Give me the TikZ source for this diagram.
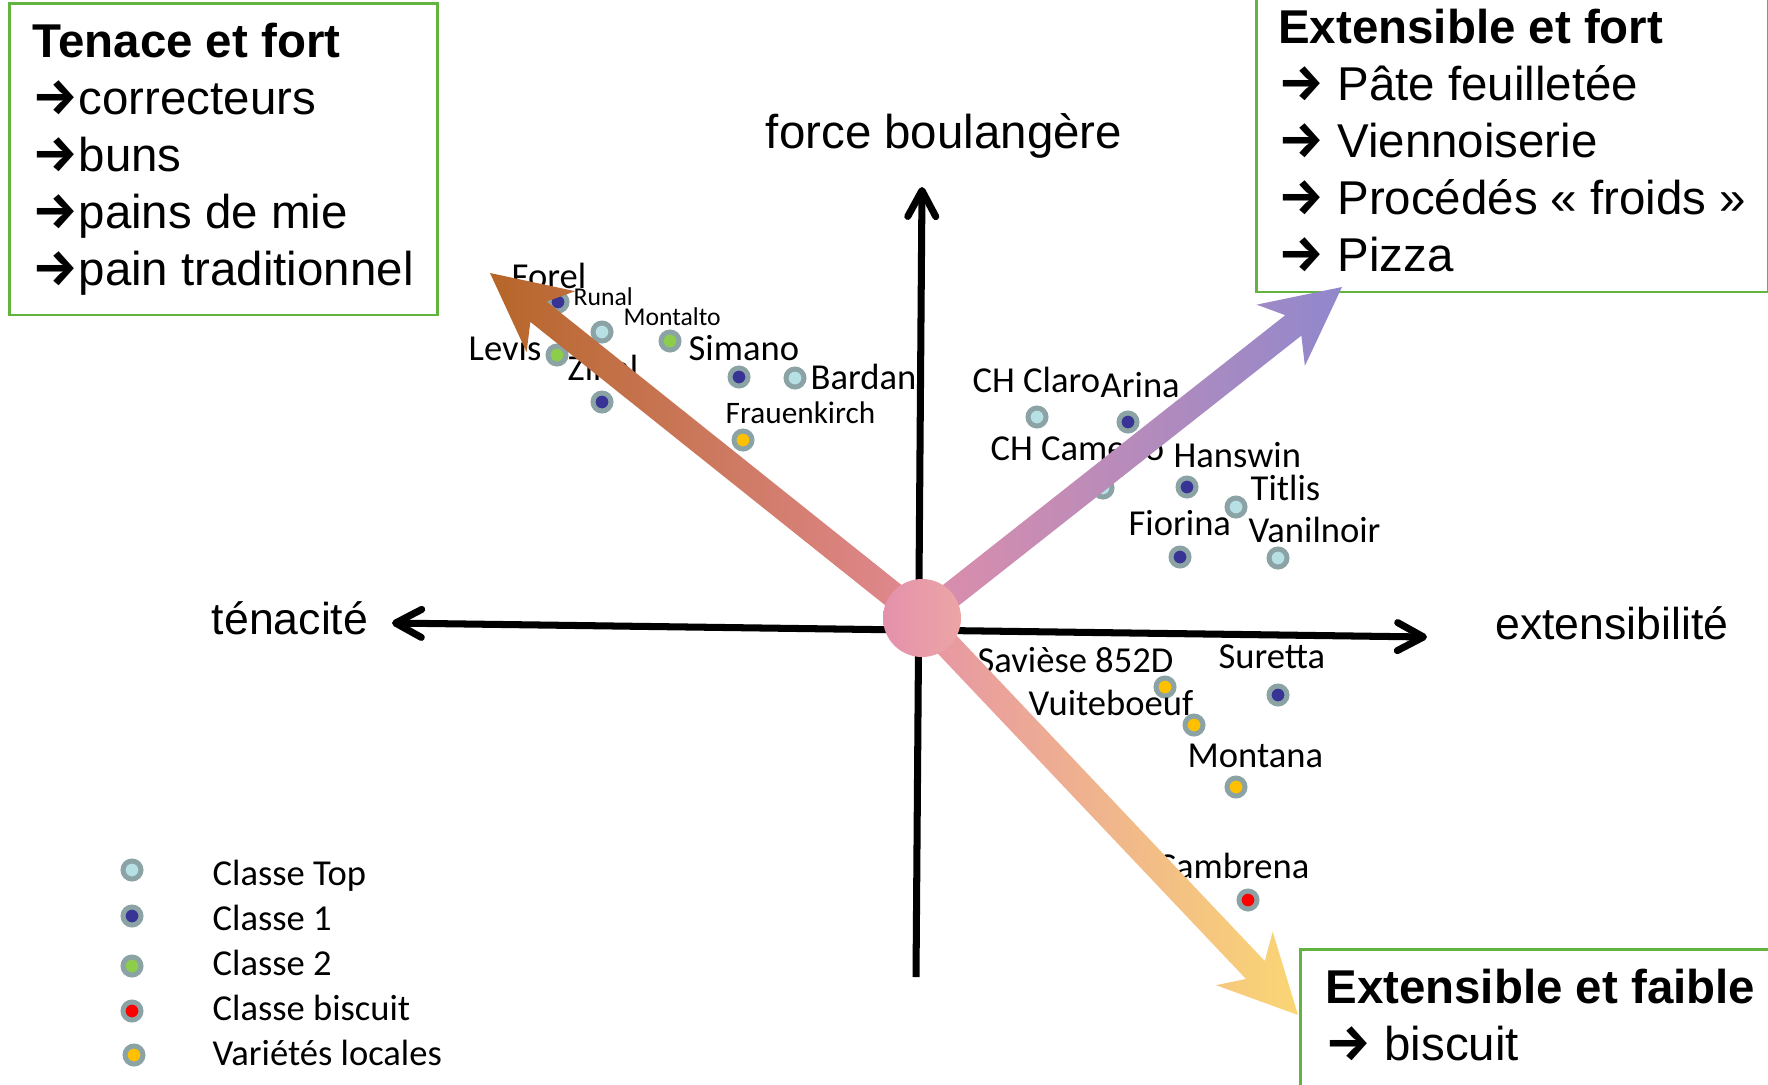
\documentclass[tikz,border=0pt]{standalone}
\usepackage{fontspec}
\setmainfont{Liberation Sans}
\newfontfamily\calibri{Carlito}
\newfontfamily\arrowfont{Fira Sans}
\usetikzlibrary{arrows.meta, calc}
\definecolor{ringgrey}{RGB}{140,163,166}
\definecolor{ctop}{RGB}{183,224,228}
\definecolor{cone}{RGB}{55,52,150}
\definecolor{ctwo}{RGB}{140,205,75}
\definecolor{cbis}{RGB}{255,0,0}
\definecolor{cloc}{RGB}{255,192,0}
\definecolor{boxgreen}{RGB}{98,180,62}
\definecolor{arrbrown}{RGB}{182,102,40}
\definecolor{arrpurple}{RGB}{144,136,204}
\definecolor{arryellow}{RGB}{250,214,116}
\definecolor{pinka}{RGB}{226,138,148}
\definecolor{pinkb}{RGB}{222,142,170}
\definecolor{pinkc}{RGB}{230,148,165}
\definecolor{hubleft}{RGB}{228,145,172}
\definecolor{hubright}{RGB}{236,165,165}
\newcommand{\goesto}{{\arrowfont\bfseries\fontsize{14.5}{14.5}\selectfont →}}

\begin{document}
\begin{tikzpicture}[x=0.1mm, y=-0.1mm,
  >={Straight Barb[length=2.6mm, width=2.8mm, round]},
  axisline/.style={line width=2pt},
  catbox/.style={draw=boxgreen, line width=0.25mm, align=left, inner xsep=2mm, inner ysep=2mm,
                 font=\fontsize{13.5}{16.2}\selectfont},
  variety/.style={circle, draw=ringgrey, line width=0.5mm, minimum size=1.8mm, inner sep=0pt},
  lbl/.style={anchor=base west, inner sep=0pt, font=\calibri\fontsize{10.4}{12.5}\selectfont},
  axlbl/.style={anchor=base, inner sep=0pt},
]
\useasboundingbox (0,0) rectangle (1768,1084);

% Category boxes
\node[catbox, anchor=north west, minimum width=42.8mm, minimum height=31mm] (tenace) at (8,2)
{\textbf{Tenace et fort}\\\goesto correcteurs\\\goesto buns\\\goesto pains de mie\\\goesto pain traditionnel};
\node[catbox, anchor=south west, minimum width=51.2mm] (fort) at (1255,293)
{\textbf{Extensible et fort}\\\goesto{} Pâte feuilletée\\\goesto{} Viennoiserie\\\goesto{} Procédés « froids »\\\goesto{} Pizza};
\node[catbox, anchor=north west, minimum width=48mm, text depth=2mm] (faible) at (1299,948)
{\textbf{Extensible et faible}\\\goesto{} biscuit};

% Axes
\coordinate (h-left) at (392,623);
\coordinate (h-right) at (1427,637);
\coordinate (v-top) at (922,187);
\coordinate (v-bot) at (916,977);
\draw[axisline, <->] (h-left) -- (h-right);
\draw[axisline, ->] (v-bot) -- (v-top);
\node[axlbl, font=\fontsize{13.5}{16}\selectfont] (force) at (944,148) {force boulangère};
\node[axlbl, font=\fontsize{12.7}{15}\selectfont] (tenacite) at (290,634) {ténacité};
\node[axlbl, font=\fontsize{12.7}{15}\selectfont] (extens) at (1612,639) {extensibilité};

% Varieties, upper left
\node[variety, fill=cone] (p-forel) at (558,302) {};
\node[variety, fill=ctop] (p-runal) at (602,332) {};
\node[variety, fill=ctwo] (p-montalto) at (670,341) {};
\node[variety, fill=ctwo] (p-levis) at (557,355) {};
\node[variety, fill=cone] (p-zinal) at (602,402) {};
\node[variety, fill=cone] (p-simano) at (739,377) {};
\node[variety, fill=ctop] (p-bardan) at (795,378) {};
\node[variety, fill=cloc] (p-frauen) at (743,440) {};
\node[lbl] at (511,288) {Forel};
\node[lbl, font=\calibri\fontsize{7.3}{9}\selectfont] at (573,305) {Runal};
\node[lbl, font=\calibri\fontsize{7.3}{9}\selectfont] at (623,325) {Montalto};
\node[lbl] at (688,360) {Simano};
\node[lbl] at (468,360) {Levis};
\node[lbl] at (567,380) {Zinal};
\node[lbl] at (810,389) {Bardan};
\node[lbl, font=\calibri\fontsize{8.9}{11}\selectfont] at (725,423) {Frauenkirch};

% Varieties, upper right
\node[variety, fill=ctop] (p-claro) at (1037,417) {};
\node[variety, fill=cone] (p-arina) at (1128,422) {};
\node[variety, fill=ctop] (p-camedo) at (1103,488) {};
\node[variety, fill=cone] (p-hanswin) at (1187,487) {};
\node[variety, fill=ctop] (p-titlis) at (1236,507) {};
\node[variety, fill=cone] (p-fiorina) at (1180,557) {};
\node[variety, fill=ctop] (p-vanil) at (1278,558) {};
\node[lbl] at (972,392) {CH Claro};
\node[lbl] at (1100,397) {Arina};
\node[lbl] at (990,460) {CH Camedo};
\node[lbl] at (1173,467) {Hanswin};
\node[lbl] at (1250,500) {Titlis};
\node[lbl] at (1128,535) {Fiorina};
\node[lbl] at (1248,542) {Vanilnoir};

% Varieties, lower right
\node[variety, fill=cloc] (p-saviese) at (1165,687) {};
\node[variety, fill=cone] (p-suretta) at (1278,695) {};
\node[variety, fill=cloc] (p-vuite) at (1194,725) {};
\node[variety, fill=cloc] (p-montana) at (1236,787) {};
\node[variety, fill=cbis] (p-cambrena) at (1248,900) {};
\node[lbl] at (977,672) {Savièse 852D};
\node[lbl] at (1218,668) {Suretta};
\node[lbl] at (1028,715) {Vuiteboeuf};
\node[lbl] at (1187,767) {Montana};
\node[lbl] at (1156,878) {Cambrena};

% Legend
\node[variety, fill=ctop] (leg-top) at (132,870) {};
\node[variety, fill=cone] (leg-one) at (132,916) {};
\node[variety, fill=ctwo] (leg-two) at (132,966) {};
\node[variety, fill=cbis] (leg-bis) at (132,1011) {};
\node[variety, fill=cloc] (leg-loc) at (134,1055) {};
\node[lbl] at (212,885) {Classe Top};
\node[lbl] at (212,930) {Classe 1};
\node[lbl] at (212,975) {Classe 2};
\node[lbl] at (212,1020) {Classe biscuit};
\node[lbl] at (212,1065) {Variétés locales};

% Fat arrows from the centre
\coordinate (centre) at (922,618);
\coordinate (tip-tenace) at (490,273);
\coordinate (tip-fort) at (1342,287);
\coordinate (tip-faible) at (1298,1015);

\coordinate (j) at ($(tip-tenace)!6.2mm!(centre)$);
\coordinate (b) at ($(tip-tenace)!7.8mm!(centre)$);
\shade[left color=arrbrown, right color=pinka]
  ($(centre)!1.3mm!90:(tip-tenace)$) -- ($(j)!1.3mm!90:(tip-tenace)$) -- ($(b)!3.9mm!90:(tip-tenace)$)
  -- (tip-tenace) -- ($(b)!3.9mm!-90:(tip-tenace)$) -- ($(j)!1.3mm!-90:(tip-tenace)$)
  -- ($(centre)!1.3mm!-90:(tip-tenace)$) -- cycle;

\coordinate (j) at ($(tip-fort)!6.2mm!(centre)$);
\coordinate (b) at ($(tip-fort)!7.8mm!(centre)$);
\shade[left color=pinkb, right color=arrpurple]
  ($(centre)!1.3mm!90:(tip-fort)$) -- ($(j)!1.3mm!90:(tip-fort)$) -- ($(b)!3.9mm!90:(tip-fort)$)
  -- (tip-fort) -- ($(b)!3.9mm!-90:(tip-fort)$) -- ($(j)!1.3mm!-90:(tip-fort)$)
  -- ($(centre)!1.3mm!-90:(tip-fort)$) -- cycle;

\coordinate (j) at ($(tip-faible)!6.2mm!(centre)$);
\coordinate (b) at ($(tip-faible)!7.8mm!(centre)$);
\shade[left color=pinkc, right color=arryellow]
  ($(centre)!1.3mm!90:(tip-faible)$) -- ($(j)!1.3mm!90:(tip-faible)$) -- ($(b)!3.9mm!90:(tip-faible)$)
  -- (tip-faible) -- ($(b)!3.9mm!-90:(tip-faible)$) -- ($(j)!1.3mm!-90:(tip-faible)$)
  -- ($(centre)!1.3mm!-90:(tip-faible)$) -- cycle;

% Hub
\node[circle, minimum size=7.8mm, inner sep=0pt, left color=hubleft, right color=hubright] (hub) at (centre) {};
\end{tikzpicture}
\end{document}
